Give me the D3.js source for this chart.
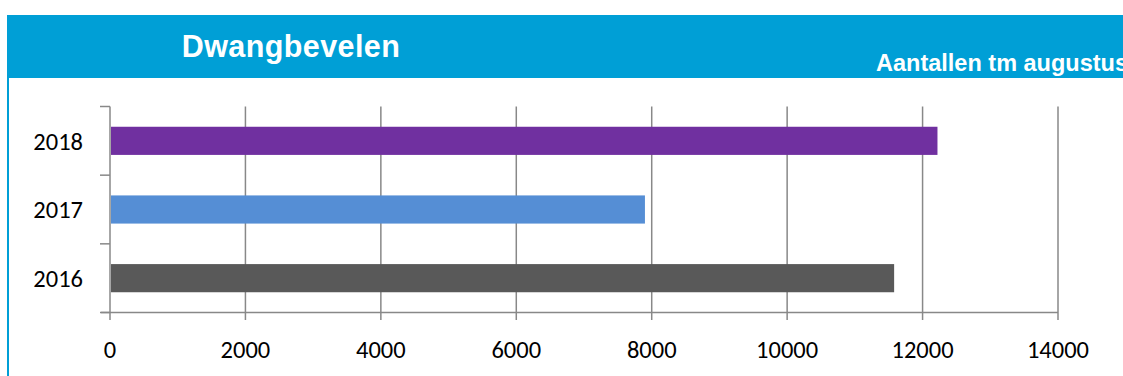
<!DOCTYPE html>
<html><head><meta charset="utf-8">
<script src="https://cdn.jsdelivr.net/npm/d3@7"></script>
<style>html,body{margin:0;padding:0;background:#fff;overflow:hidden}</style>
</head><body>
<svg id="c" width="1123" height="376"></svg>
<script>
const categories = ["2016", "2017", "2018"];
const values = [11580, 7900, 12220];
const colors = ["#595959", "#558ED5", "#7030A0"];
const xTicks = [0, 2000, 4000, 6000, 8000, 10000, 12000, 14000];
const title = "Dwangbevelen";
const subtitle = "Aantallen tm augustus";

const svg = d3.select("#c");
// header band
svg.append("rect").attr("x", 7).attr("y", 15).attr("width", 1116).attr("height", 63).attr("fill", "#009FD6");
svg.append("line").attr("x1", 8).attr("x2", 8).attr("y1", 78).attr("y2", 376).attr("stroke", "#009FD6").attr("stroke-width", 2);
svg.append("text").attr("x", 291).attr("y", 56.7).attr("text-anchor", "middle")
  .attr("font-family", "Liberation Sans, Arial, sans-serif").attr("font-weight", "bold").attr("font-size", 30.5)
  .attr("letter-spacing", 0.4).attr("fill", "#fff").text(title);
svg.append("text").attr("x", 876).attr("y", 71)
  .attr("font-family", "Liberation Sans, Arial, sans-serif").attr("font-weight", "bold").attr("font-size", 23.5)
  .attr("fill", "#fff").text(subtitle);

const x = d3.scaleLinear().domain([0, 14000]).range([110, 1058]);
const y = d3.scaleBand().domain(categories.slice().reverse()).range([106.5, 312.5]).paddingInner(0.59).paddingOuter(0.295);
const yTick = d3.scaleBand().domain(categories.slice().reverse()).range([106.5, 312.5]);
const font = "Carlito, Lato, sans-serif";

// gridlines
svg.append("g").selectAll("line").data(xTicks).join("line")
  .attr("x1", d => x(d)).attr("x2", d => x(d)).attr("y1", 106.5).attr("y2", 320)
  .attr("stroke", "#888").attr("stroke-width", 1.5);
// x axis line
svg.append("line").attr("x1", 101).attr("x2", x(14000)).attr("y1", 312.5).attr("y2", 312.5).attr("stroke", "#888").attr("stroke-width", 1.5);
// y axis ticks
const yt = [106.5].concat(categories.slice().reverse().map(c => yTick(c) + yTick.bandwidth()));
svg.append("g").selectAll("line").data(yt).join("line")
  .attr("x1", 100).attr("x2", 110).attr("y1", d => d).attr("y2", d => d)
  .attr("stroke", "#888").attr("stroke-width", 1.5);

// bars
svg.append("g").selectAll("rect").data(categories).join("rect")
  .attr("x", x(0) + 1).attr("y", d => y(d)).attr("height", y.bandwidth())
  .attr("width", (d, i) => x(values[i]) - x(0) - 1).attr("fill", (d, i) => colors[i]);

// labels
svg.append("g").selectAll("text").data(categories).join("text")
  .attr("x", 83).attr("y", d => yTick(d) + yTick.bandwidth() / 2 + 8.7)
  .attr("text-anchor", "end").attr("font-family", font).attr("font-size", 24.5).attr("fill", "#000").text(d => d);
svg.append("g").selectAll("text").data(xTicks).join("text")
  .attr("x", d => x(d)).attr("y", 357.5).attr("text-anchor", "middle")
  .attr("font-family", font).attr("font-size", 24.5).attr("fill", "#000").text(d => d);
</script>
</body></html>
